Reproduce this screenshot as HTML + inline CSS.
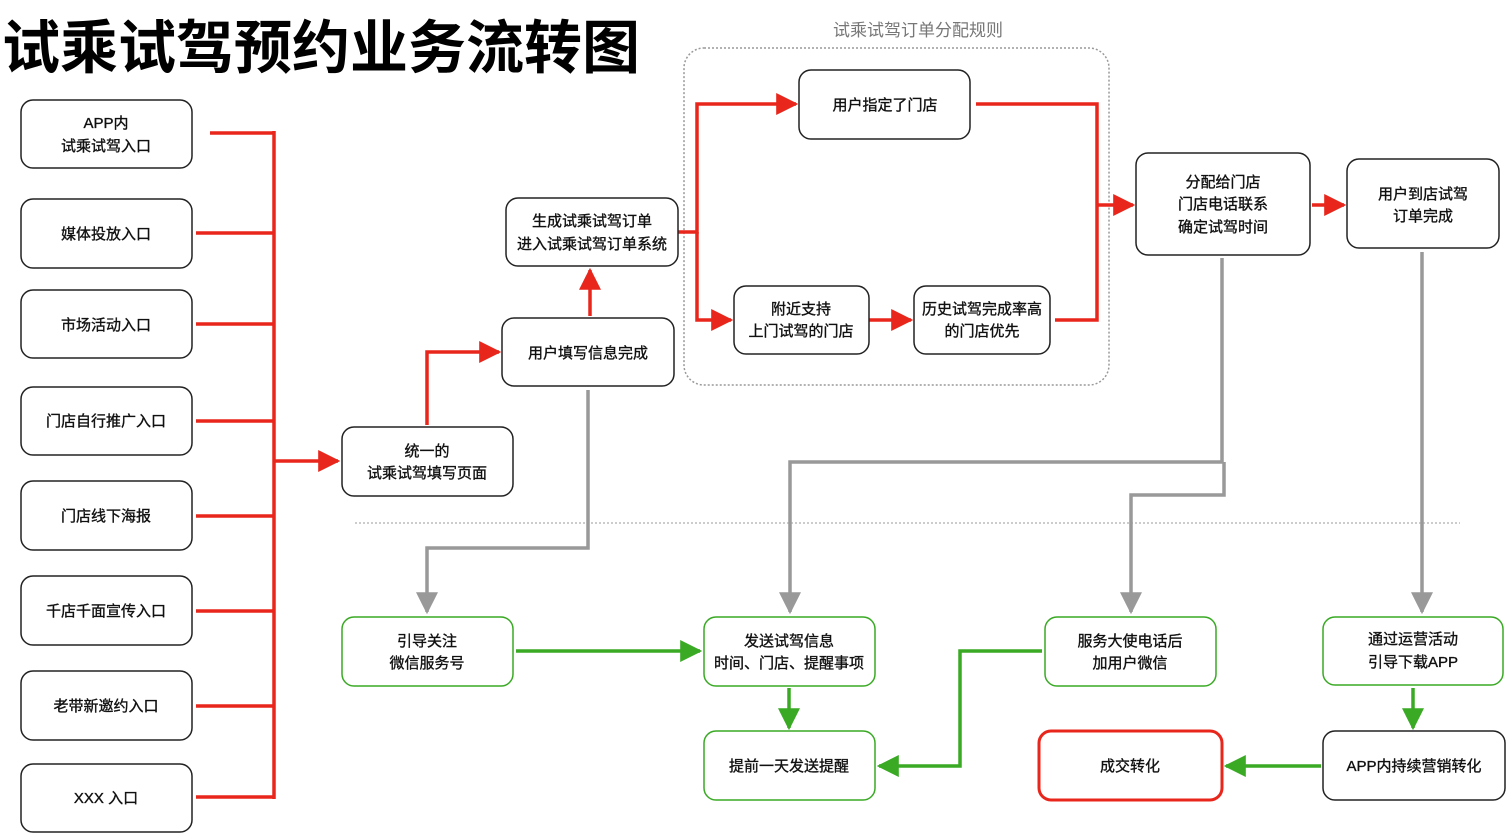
<!DOCTYPE html>
<html><head><meta charset="utf-8"><style>
html,body{margin:0;padding:0;background:#fff;}
svg{display:block}
text{font-family:"Liberation Sans","Noto Sans CJK SC",sans-serif;font-size:15px;fill:#111;text-anchor:middle;stroke:#111;stroke-width:0.35px;}
</style></head><body>
<svg width="1512" height="840" viewBox="0 0 1512 840" xmlns="http://www.w3.org/2000/svg">
<defs>
<marker id="ar" viewBox="0 0 10 10" refX="9" refY="5" markerWidth="22" markerHeight="22" markerUnits="userSpaceOnUse" orient="auto"><path d="M0,0L10,5L0,10z" fill="#e8261c"/></marker>
<marker id="ag" viewBox="0 0 10 10" refX="9" refY="5" markerWidth="22" markerHeight="22" markerUnits="userSpaceOnUse" orient="auto"><path d="M0,0L10,5L0,10z" fill="#3aaa25"/></marker>
<marker id="ay" viewBox="0 0 10 10" refX="9" refY="5" markerWidth="22" markerHeight="22" markerUnits="userSpaceOnUse" orient="auto"><path d="M0,0L10,5L0,10z" fill="#999"/></marker>
</defs>
<text x="2" y="68" style="font-size:58px;font-weight:bold;text-anchor:start;fill:#000;stroke:none">试乘试驾预约业务流转图</text>
<text x="918" y="36" style="font-size:17px;fill:#777;stroke:none">试乘试驾订单分配规则</text>
<rect x="684" y="48" width="425" height="337" rx="20" fill="none" stroke="#999" stroke-width="1.5" stroke-dasharray="2,2"/>
<line x1="355" y1="523" x2="1460" y2="523" stroke="#bbb" stroke-width="1.5" stroke-dasharray="2,2"/>

<g fill="none" stroke="#e8261c" stroke-width="3.5">
<path d="M210,133H274M196,233H274M196,324H274M196,421H274M196,516H274M196,611H274M196,706H274M196,797H274M274,131V799"/>
<path d="M274,461H338" marker-end="url(#ar)"/>
<path d="M427,425V352H499" marker-end="url(#ar)"/>
<path d="M590,316V270" marker-end="url(#ar)"/>
<path d="M678,232H697V104H796" marker-end="url(#ar)"/>
<path d="M697,232V320H731" marker-end="url(#ar)"/>
<path d="M869,320H911" marker-end="url(#ar)"/>
<path d="M976,104H1097V320H1055"/>
<path d="M1097,205H1133" marker-end="url(#ar)"/>
<path d="M1312,205H1344" marker-end="url(#ar)"/>
</g>
<g fill="none" stroke="#999" stroke-width="3.5">
<path d="M588,390V548H427V612" marker-end="url(#ay)"/>
<path d="M1222,258V462H790V612" marker-end="url(#ay)"/>
<path d="M1224,462V495H1131V612" marker-end="url(#ay)"/>
<path d="M1422,252V612" marker-end="url(#ay)"/>
</g>
<g fill="none" stroke="#3aaa25" stroke-width="3.5">
<path d="M516,651H700" marker-end="url(#ag)"/>
<path d="M789,688V728" marker-end="url(#ag)"/>
<path d="M1042,651H960V766H879" marker-end="url(#ag)"/>
<path d="M1413,688V728" marker-end="url(#ag)"/>
<path d="M1321,766H1226" marker-end="url(#ag)"/>
</g>

<g fill="#fff" stroke="#222" stroke-width="1.5">
<rect x="21" y="100" width="171" height="68" rx="12"/>
<rect x="21" y="199" width="171" height="69" rx="12"/>
<rect x="21" y="290" width="171" height="68" rx="12"/>
<rect x="21" y="387" width="171" height="68" rx="12"/>
<rect x="21" y="481" width="171" height="69" rx="12"/>
<rect x="21" y="576" width="171" height="69" rx="12"/>
<rect x="21" y="671" width="171" height="69" rx="12"/>
<rect x="21" y="764" width="171" height="68" rx="12"/>
<rect x="342" y="427" width="171" height="69" rx="12"/>
<rect x="502" y="318" width="172" height="68" rx="12"/>
<rect x="506" y="198" width="172" height="68" rx="12"/>
<rect x="799" y="70" width="171" height="69" rx="12"/>
<rect x="734" y="286" width="135" height="68" rx="12"/>
<rect x="914" y="286" width="136" height="68" rx="12"/>
<rect x="1136" y="153" width="174" height="102" rx="12"/>
<rect x="1347" y="159" width="152" height="89" rx="12"/>
</g>
<g fill="#fff" stroke="#3aaa25" stroke-width="1.5">
<rect x="342" y="617" width="171" height="69" rx="12"/>
<rect x="704" y="617" width="171" height="69" rx="12"/>
<rect x="704" y="731" width="171" height="69" rx="12"/>
<rect x="1045" y="617" width="171" height="69" rx="12"/>
<rect x="1323" y="617" width="180" height="68" rx="12"/>
</g>
<rect x="1323" y="731" width="182" height="69" rx="12" fill="#fff" stroke="#222" stroke-width="1.5"/>
<rect x="1039" y="731" width="183" height="69" rx="12" fill="#fff" stroke="#e8261c" stroke-width="3"/>

<text x="106" y="128">APP内</text><text x="106" y="151">试乘试驾入口</text>
<text x="106" y="239">媒体投放入口</text>
<text x="106" y="330">市场活动入口</text>
<text x="106" y="426">门店自行推广入口</text>
<text x="106" y="521">门店线下海报</text>
<text x="106" y="616">千店千面宣传入口</text>
<text x="106" y="711">老带新邀约入口</text>
<text x="106" y="803">XXX 入口</text>
<text x="427" y="456">统一的</text><text x="427" y="478">试乘试驾填写页面</text>
<text x="588" y="358">用户填写信息完成</text>
<text x="592" y="226">生成试乘试驾订单</text><text x="592" y="249">进入试乘试驾订单系统</text>
<text x="885" y="110">用户指定了门店</text>
<text x="801" y="314">附近支持</text><text x="801" y="336">上门试驾的门店</text>
<text x="982" y="314">历史试驾完成率高</text><text x="982" y="336">的门店优先</text>
<text x="1223" y="187">分配给门店</text><text x="1223" y="209">门店电话联系</text><text x="1223" y="232">确定试驾时间</text>
<text x="1423" y="199">用户到店试驾</text><text x="1423" y="221">订单完成</text>
<text x="427" y="646">引导关注</text><text x="427" y="668">微信服务号</text>
<text x="789" y="646">发送试驾信息</text><text x="789" y="668">时间、门店、提醒事项</text>
<text x="789" y="771">提前一天发送提醒</text>
<text x="1130" y="646">服务大使电话后</text><text x="1130" y="668">加用户微信</text>
<text x="1413" y="644">通过运营活动</text><text x="1413" y="667">引导下载APP</text>
<text x="1130" y="771">成交转化</text>
<text x="1414" y="771">APP内持续营销转化</text>
</svg>
</body></html>
